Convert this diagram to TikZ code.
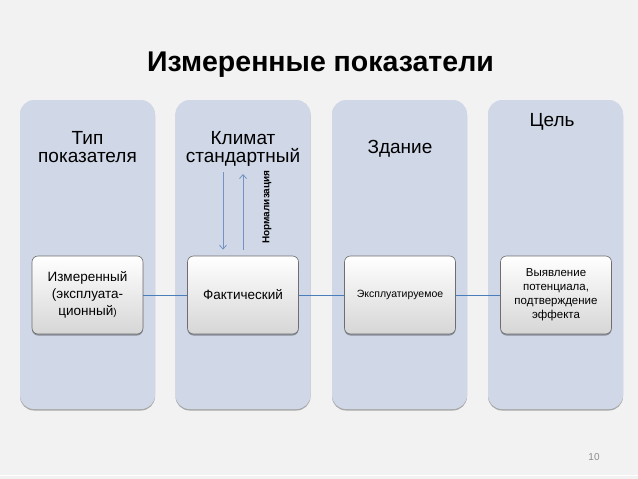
\documentclass[tikz,border=0pt]{standalone}
\usepackage{fontspec}
\setmainfont{Liberation Sans}
\usetikzlibrary{arrows.meta,shadows}
\definecolor{bg}{HTML}{F2F2F2}
\definecolor{panelc}{HTML}{D0D8E8}
\definecolor{linkc}{HTML}{4A7EBB}
\definecolor{arrc}{HTML}{7393C4}
\definecolor{boxedge}{HTML}{6E6E6E}
\definecolor{boxlow}{HTML}{D6D6D6}
\definecolor{numc}{HTML}{8C8C8C}
\begin{document}
\begin{tikzpicture}[x=1pt,y=-1pt,
  panelbox/.style={fill=panelc, rounded corners=14pt, minimum width=135pt, minimum height=309pt, inner sep=0pt,
    drop shadow={shadow xshift=0pt, shadow yshift=-1.5pt, fill=black, opacity=0.3}},
  itembox/.style={draw=boxedge, line width=0.6pt, top color=white, bottom color=boxlow, rounded corners=6pt,
    minimum width=111pt, minimum height=78pt, inner sep=2pt, align=center, text width=104pt,
    drop shadow={shadow xshift=0pt, shadow yshift=-1.5pt, fill=black, opacity=0.35}},
  head/.style={font=\fontsize{19}{18}\selectfont, align=center, inner sep=0pt},
  linkline/.style={draw=linkc, line width=1pt},
  normarrow/.style={draw=arrc, line width=0.8pt, -{Straight Barb[length=4pt,width=7pt]}}
]
\useasboundingbox (0,0) rectangle (638,479);
\fill[bg] (0,0) rectangle (638,479);
\draw[white, line width=0.8pt] (0,475) -- (638,475);

\node[font=\fontsize{28.5}{32}\selectfont\bfseries, anchor=base] (title) at (320.5,71) {Измеренные показатели};

\node[panelbox] (p1) at (87.5,254.5) {};
\node[panelbox] (p2) at (243,254.5) {};
\node[panelbox] (p3) at (399.5,254.5) {};
\node[panelbox] (p4) at (555.5,254.5) {};

\node[head, anchor=base] (h1) at (87.5,162) {Тип\\показателя};
\node[head, anchor=base] (h2) at (243,162) {Климат\\стандартный};
\node[head, anchor=base] (h3) at (400,153) {Здание};
\node[head, anchor=base] (h4) at (552,126) {Цель};

\node[itembox, font=\fontsize{13.5}{17}\selectfont] (b1) at (87.5,295) {Измеренный\\(эксплуата-\\ционный\fontsize{10}{17}\selectfont)};
\node[itembox, font=\fontsize{13.5}{16}\selectfont] (b2) at (243,295) {Фактический};
\node[itembox, font=\fontsize{10.5}{13}\selectfont] (b3) at (400,295) {Эксплуатируемое};
\node[itembox, font=\fontsize{11.5}{14}\selectfont] (b4) at (556,295) {Выявление\\потенциала,\\подтверждение\\эффекта};

\draw[linkline] (b1.east) -- (b2.west);
\draw[linkline] (b2.east) -- (b3.west);
\draw[linkline] (b3.east) -- (b4.west);

\coordinate (dtop) at (223,172);
\coordinate (utop) at (243,174);
\coordinate (btop) at ([yshift=6pt]b2.north);
\draw[normarrow] (dtop) -- (dtop |- btop);
\draw[normarrow] (btop) -- (utop);
\node[font=\fontsize{10}{12}\selectfont\bfseries, rotate=90] (norm) at (267,207) {Нормализация};

\node[font=\fontsize{10}{12}\selectfont, text=numc] (pg) at (594,457) {10};
\end{tikzpicture}
\end{document}
